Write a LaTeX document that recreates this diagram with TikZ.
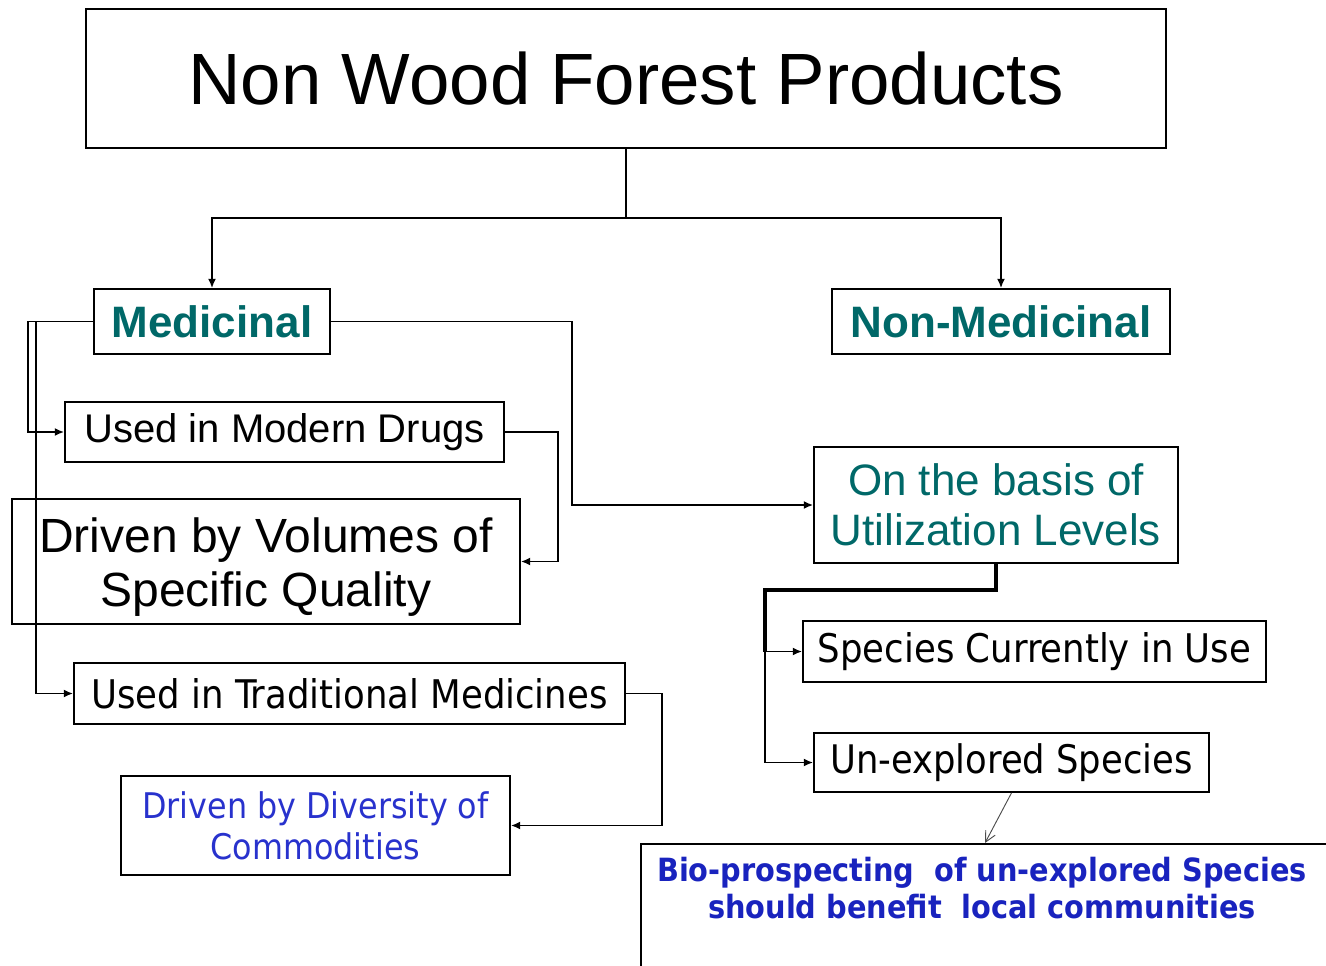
\documentclass[tikz,border=0pt]{standalone}
\usepackage{fontspec}
\setmainfont{Liberation Sans}
\newfontfamily\tahoma{DejaVu Sans Condensed}
\usetikzlibrary{arrows.meta}

\definecolor{nwfteal}{RGB}{0,104,104}
\definecolor{nwfblue}{RGB}{40,50,205}
\definecolor{nwfdeep}{RGB}{25,35,190}

\newdimen\px \px=0.75pt

\begin{document}
\begin{tikzpicture}[x=0.75pt, y=-0.75pt,
    box/.style={draw, line width=1.3pt, inner sep=0pt, align=center},
    line/.style={line width=1.3pt},
    link/.style={line width=1.3pt, -{Latex[length=7pt,width=6pt]}},
    heavy/.style={line width=2.6pt},
    pointer/.style={line width=0.7pt, draw=black!70, -{Straight Barb[length=8pt,width=8pt]}}]

    \useasboundingbox (0,0) rectangle (1326,965);

    % heading and the two main groups
    \node[box, minimum width=1080\px, minimum height=139\px,
          font=\fontsize{54.5}{60}\selectfont] (title) at (626,78.5) {Non Wood Forest Products};
    \node[box, minimum width=236\px, minimum height=65\px, text=nwfteal,
          font=\fontsize{33}{38}\selectfont\bfseries] (med) at (212,321.5) {Medicinal};
    \node[box, minimum width=338\px, minimum height=65\px, text=nwfteal,
          font=\fontsize{33}{38}\selectfont\bfseries] (nonmed) at (1001,321.5) {Non-Medicinal};

    % medicinal side
    \node[box, minimum width=439\px, minimum height=60\px,
          font=\fontsize{30}{34}\selectfont] (modern) at (284.5,432) {Used in Modern Drugs};
    \node[box, minimum width=508\px, minimum height=125\px,
          font=\fontsize{36}{40.5}\selectfont] (volumes) at (266,561.5) {\rule{0pt}{34pt}Driven by Volumes of\\Specific Quality};
    \node[box, minimum width=551\px, minimum height=61\px,
          font=\tahoma\fontsize{29.6}{33}\selectfont] (trad) at (349.5,693.5) {Used in Traditional Medicines};
    \node[box, minimum width=389\px, minimum height=99\px, text=nwfblue,
          font=\tahoma\fontsize{26.5}{31}\selectfont] (diversity) at (315.5,825.5) {Driven by Diversity of\\Commodities};

    % utilization levels
    \node[box, minimum width=364\px, minimum height=116\px, text=nwfteal,
          font=\fontsize{33}{37.5}\selectfont] (basis) at (996,505) {On the basis of\\Utilization Levels};
    \node[box, minimum width=463\px, minimum height=61\px,
          font=\tahoma\fontsize{29.6}{33}\selectfont] (current) at (1034.5,651.5) {Species Currently in Use};
    \node[box, minimum width=395\px, minimum height=59\px,
          font=\tahoma\fontsize{29.5}{33}\selectfont] (unexp) at (1011.5,762.5) {Un-explored Species};

    % bio-prospecting note, box runs off the page
    \node[box, anchor=north west, minimum width=720\px, minimum height=160\px] (bio) at (640,843) {};
    \node[align=center, inner sep=0pt, text=nwfdeep,
          font=\tahoma\fontsize{24}{28}\selectfont\bfseries] (biotext) at (982,888)
          {Bio-prospecting\ \ of un-explored Species\\should benefit\ \ local communities};

    \coordinate (fork) at (626,218);
    \coordinate (hub) at (765,590);
    \coordinate (bioin) at (985,843);

    % connectors
    \draw[line] (title) -- (fork);
    \draw[link] (fork) -| (med);
    \draw[link] (fork) -| (nonmed);

    \draw[link] (med.west) -- ++(-65,0) |- (modern.west);
    \draw[link] (med.west) -- ++(-57,0) |- (trad.west);
    \draw[link] (modern.east) -- ++(53,0) |- (volumes.east);
    \draw[link] (trad.east) -- ++(36,0) |- (diversity.east);
    \draw[link] (med.east) -- ++(241,0) |- (basis.west);

    \draw[heavy] (basis.south) |- (hub) -- (hub |- current.west);
    \draw[link] (hub) |- (current.west);
    \draw[link] (hub) |- (unexp.west);
    \draw[pointer] (unexp.south) -- (bioin);
\end{tikzpicture}
\end{document}
